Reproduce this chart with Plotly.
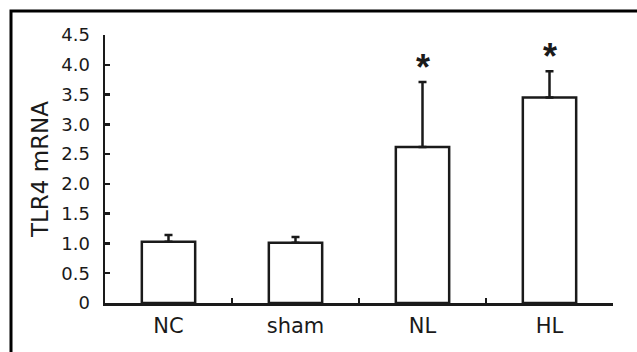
import plotly.graph_objects as go

categories = ["NC", "sham", "NL", "HL"]
values = [1.03, 1.01, 2.62, 3.45]
errors = [0.11, 0.10, 1.09, 0.44]
significant = [False, False, True, True]
y_tickvals = [0, 0.5, 1.0, 1.5, 2.0, 2.5, 3.0, 3.5, 4.0, 4.5]
y_ticktext = ["0", "0.5", "1.0", "1.5", "2.0", "2.5", "3.0", "3.5", "4.0", "4.5"]

FONT = "DejaVu Sans, Liberation Sans, Arial, sans-serif"
INK = "#1a1a1a"

W, H = 637, 352
L, R, T, B = 105, 24, 35, 49
pw, ph = W - L - R, H - T - B

fig = go.Figure()
fig.add_trace(go.Bar(
    x=list(range(len(categories))), y=values,
    width=0.42,
    marker=dict(color="white", line=dict(color=INK, width=2.5)),
    error_y=dict(type="data", array=errors, symmetric=False, arrayminus=[0]*len(errors),
                 color=INK, thickness=2.5, width=4),
    showlegend=False, hoverinfo="skip",
))
# invisible trace for boundary-tick axis
fig.add_trace(go.Scatter(x=[0.5], y=[0], xaxis="x2", mode="markers",
                         marker=dict(opacity=0), showlegend=False, hoverinfo="skip"))

for i, (v, e, s) in enumerate(zip(values, errors, significant)):
    if s:
        fig.add_annotation(x=i, y=v + e, text="<b>*</b>", showarrow=False,
                           yanchor="bottom", yshift=-8,
                           font=dict(family="Liberation Sans, Arial", size=36, color=INK))

fig.update_layout(
    width=W, height=H,
    margin=dict(l=L, r=R, t=T, b=B, pad=0),
    paper_bgcolor="white", plot_bgcolor="white",
    font=dict(family=FONT, color=INK),
    hovermode=False,
    xaxis=dict(range=[-0.5, 3.5], tickvals=list(range(len(categories))), ticktext=categories,
               ticks="", showline=True, linecolor=INK, linewidth=2.5, showgrid=False,
               zeroline=False, tickfont=dict(size=21), ticklabelstandoff=2),
    xaxis2=dict(range=[-0.5, 3.5], overlaying="x", anchor="y", side="bottom",
                tickvals=[0.5, 1.5, 2.5, 3.5], ticks="inside", ticklen=5, tickwidth=2.5,
                tickcolor=INK, showticklabels=False, showline=False, showgrid=False,
                zeroline=False),
    yaxis=dict(range=[0, 4.5], tickvals=y_tickvals, ticktext=y_ticktext,
               ticks="inside", ticklen=5, tickwidth=2.5, tickcolor=INK,
               showline=True, linecolor=INK, linewidth=2.5, showgrid=False, zeroline=False,
               tickfont=dict(size=18), ticklabelstandoff=9,
               title=dict(text="TLR4 mRNA", font=dict(size=23), standoff=6)),
)

# outer frame (only top and left edges visible in the reference)
fig.add_shape(type="rect", xref="paper", yref="paper",
              x0=(11 - L) / pw, x1=(W + 10 - L) / pw,
              y0=(T + ph - (H + 10)) / ph, y1=(T + ph - 11) / ph,
              line=dict(color="black", width=3), fillcolor="rgba(0,0,0,0)")

fig.write_html("out.html", config={"displayModeBar": False, "staticPlot": True},
               post_script="document.body.style.margin='0';document.body.style.padding='0';")
